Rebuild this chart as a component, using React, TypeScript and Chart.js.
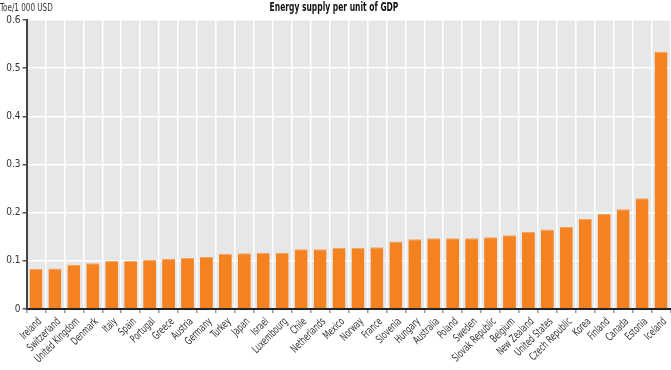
import React, { useEffect, useRef } from "react";
import { Chart, registerables } from "chart.js";
Chart.register(...registerables);

const countries = ["Ireland","Switzerland","United Kingdom","Denmark","Italy","Spain","Portugal","Greece","Austria","Germany","Turkey","Japan","Israel","Luxembourg","Chile","Netherlands","Mexico","Norway","France","Slovenia","Hungary","Australia","Poland","Sweden","Slovak Republic","Belgium","New Zealand","United States","Czech Republic","Korea","Finland","Canada","Estonia","Iceland"];
const values = [0.083,0.084,0.092,0.095,0.100,0.100,0.102,0.104,0.106,0.108,0.114,0.116,0.117,0.117,0.124,0.124,0.127,0.127,0.128,0.140,0.145,0.147,0.147,0.147,0.149,0.153,0.160,0.165,0.170,0.187,0.197,0.207,0.230,0.534];
const title = "Energy supply per unit of GDP";
const unitLabel = "Toe/1 000 USD";
const FONT = "'DejaVu Sans Condensed', 'Liberation Sans Narrow', sans-serif";

export default function App() {
  const ref = useRef<HTMLCanvasElement>(null);
  useEffect(() => {
    document.body.style.margin = "0";
    const bg = {
      id: "bg",
      beforeDraw(chart: any) {
        const { ctx, chartArea: a } = chart;
        ctx.save();
        ctx.fillStyle = "#e6e7e8";
        ctx.fillRect(a.left, a.top, a.right - a.left, a.bottom - a.top);
        ctx.restore();
      },
      afterDraw(chart: any) {
        const { ctx } = chart;
        ctx.save();
        ctx.fillStyle = "#111";
        ctx.font = `bold 12px ${FONT}`;
        ctx.textAlign = "center";
        ctx.textBaseline = "middle";
        ctx.save();
        ctx.translate(334, 8);
        ctx.scale(0.7, 1);
        ctx.fillText(title, 0, 0);
        ctx.restore();
        ctx.font = `11px ${FONT}`;
        ctx.fillStyle = "#333";
        ctx.textAlign = "left";
        ctx.save();
        ctx.translate(0, 8);
        ctx.scale(0.73, 1);
        ctx.fillText(unitLabel, 0, 0);
        ctx.restore();
        const xs = chart.scales.x;
        const yb = chart.chartArea.bottom;
        ctx.font = `11px ${FONT}`;
        ctx.fillStyle = "#333";
        ctx.textAlign = "right";
        ctx.textBaseline = "middle";
        countries.forEach((c, i) => {
          const x = xs.getPixelForValue(i);
          ctx.save();
          ctx.translate(x + 4, yb + 11);
          ctx.rotate(-Math.PI / 4);
          ctx.scale(0.73, 1);
          ctx.fillText(c, 0, 0);
          ctx.restore();
        });
        ctx.restore();
      },
    };
    const chart = new Chart(ref.current!, {
      type: "bar",
      data: {
        labels: countries,
        datasets: [{
          data: values,
          backgroundColor: "#f58220",
          borderColor: "#f8a35a",
          borderWidth: { top: 1, left: 0, right: 0, bottom: 0 } as any,
          barPercentage: 0.68,
          categoryPercentage: 1,
        }],
      },
      options: {
        animation: false,
        responsive: false,
        layout: { padding: { top: 20, right: 0.5, left: 0, bottom: 0 } },
        plugins: { legend: { display: false }, tooltip: { enabled: false }, title: { display: false } },
        scales: {
          x: {
            offset: true,
            grid: { color: "#ffffff", lineWidth: 1.5, tickColor: "#999", tickLength: 4, offset: true },
            border: { color: "#222", width: 2 },
            ticks: { display: false },
            afterFit(s: any) { s.height = 61; },
          },
          y: {
            min: 0, max: 0.6,
            grid: { color: "#ffffff", lineWidth: 1.5, tickColor: "#555", tickLength: 4 },
            border: { color: "#444", width: 2 },
            ticks: { stepSize: 0.1, color: "#333", font: { family: FONT, size: 10 }, padding: 2, callback: (v: any) => (v === 0 ? "0" : Number(v).toFixed(1)) },
            afterFit(s: any) { s.width = 26.5; },
          },
        },
      },
      plugins: [bg],
    });
    return () => chart.destroy();
  }, []);
  return (
    <div style={{ position: "absolute", left: 0, top: 0, width: 671, height: 370 }}>
      <canvas ref={ref} width={671} height={370} style={{ width: 671, height: 370 }} />
    </div>
  );
}
